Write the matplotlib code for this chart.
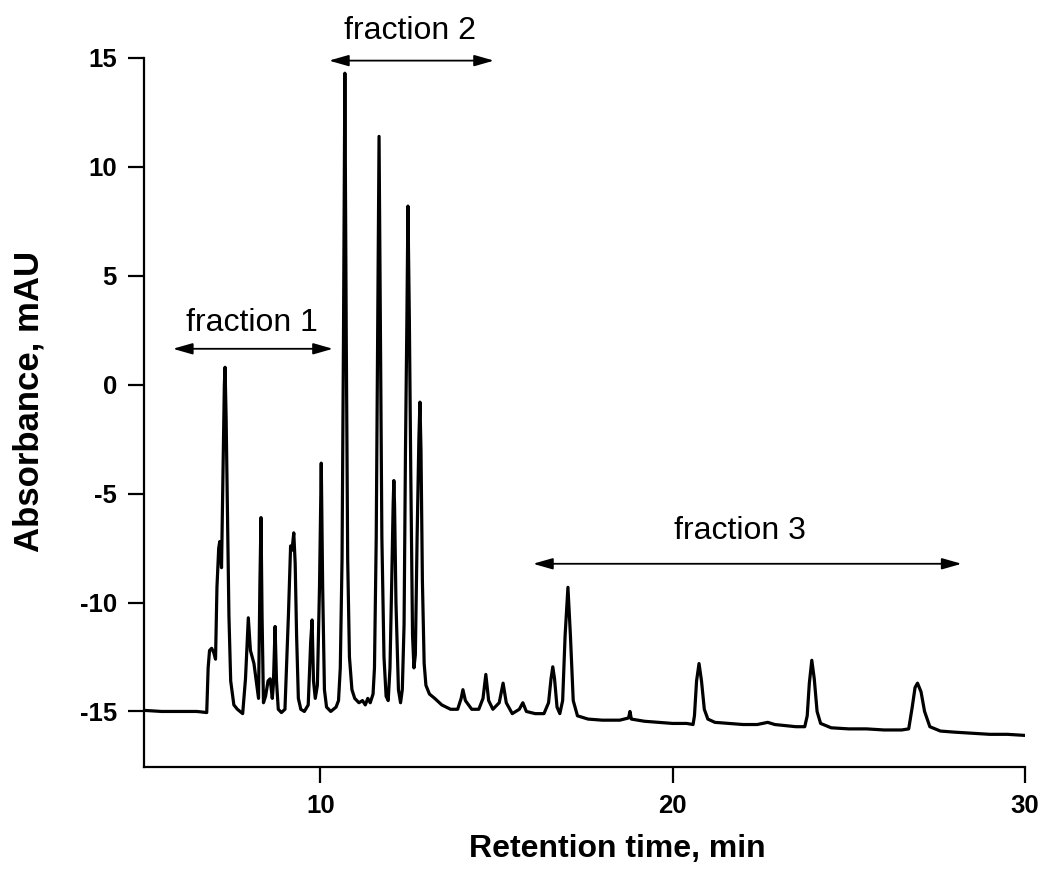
import matplotlib
matplotlib.use("Agg")
import matplotlib.pyplot as plt

# Chromatogram trace: (retention time / min, absorbance / mAU)
trace_start = [(5.00, -14.95), (5.50, -15.00), (6.00, -15.00), (6.50, -15.00), (6.78, -15.05)]

trace_fraction1 = [
    (6.82, -13.0), (6.86, -12.2), (6.92, -12.1), (6.98, -12.3), (7.03, -12.6), (7.07, -9.3),
    (7.12, -7.5), (7.15, -7.2), (7.20, -8.4), (7.25, -3.0), (7.28, 0.0), (7.30, 0.8),
    (7.33, -1.5), (7.37, -6.2), (7.41, -10.6), (7.46, -13.6), (7.55, -14.7), (7.65, -14.9),
    (7.80, -15.1), (7.88, -13.5), (7.96, -10.7), (8.02, -12.2), (8.12, -12.8), (8.20, -13.8),
    (8.25, -14.4), (8.29, -9.0), (8.32, -6.1), (8.35, -10.6), (8.39, -14.6), (8.45, -14.3),
    (8.52, -13.6), (8.58, -13.5), (8.64, -14.4), (8.67, -13.8), (8.72, -11.1), (8.76, -13.6),
    (8.81, -14.9), (8.90, -15.05), (9.00, -14.9), (9.10, -10.5), (9.16, -7.4), (9.20, -7.6),
    (9.25, -6.8), (9.29, -8.2), (9.33, -11.5), (9.38, -14.4), (9.45, -14.9), (9.55, -15.0),
    (9.66, -14.7), (9.73, -11.8), (9.77, -10.8), (9.81, -13.6), (9.86, -14.4), (9.92, -13.8),
    (9.98, -9.3), (10.03, -3.6), (10.07, -9.3), (10.12, -14.0), (10.18, -14.8), (10.30, -15.0),
    (10.45, -14.8),
]

trace_fraction2 = [
    (10.52, -14.5), (10.57, -13.0), (10.62, -8.0), (10.66, 2.0), (10.70, 14.3), (10.74, 2.0),
    (10.78, -8.0), (10.83, -12.5), (10.90, -14.0), (10.98, -14.4), (11.10, -14.6),
    (11.20, -14.5), (11.28, -14.7), (11.35, -14.4), (11.42, -14.6), (11.50, -14.2),
    (11.54, -13.0), (11.59, -7.0), (11.63, 2.0), (11.67, 11.4), (11.71, 2.0), (11.75, -7.0),
    (11.81, -12.5), (11.87, -14.3), (11.93, -14.5), (11.98, -13.0), (12.03, -9.0),
    (12.07, -5.5), (12.09, -4.4), (12.11, -5.5), (12.15, -10.0), (12.22, -14.0),
    (12.28, -14.6), (12.33, -14.0), (12.38, -11.0), (12.42, -3.0), (12.46, 3.0), (12.49, 8.2),
    (12.53, 3.0), (12.57, -4.0), (12.62, -11.5), (12.66, -13.0), (12.70, -12.4),
    (12.75, -7.0), (12.80, -2.5), (12.83, -0.8), (12.86, -3.0), (12.90, -9.0), (12.95, -12.8),
    (13.00, -13.8), (13.10, -14.2), (13.25, -14.4), (13.45, -14.7), (13.70, -14.9),
    (13.90, -14.9),
]

trace_middle = [
    (14.00, -14.4), (14.05, -14.0), (14.12, -14.5), (14.30, -14.9), (14.50, -14.9),
    (14.62, -14.4), (14.70, -13.3), (14.78, -14.5), (14.90, -14.9), (15.08, -14.6),
    (15.19, -13.7), (15.28, -14.6), (15.45, -15.1), (15.65, -14.9), (15.75, -14.6),
    (15.85, -15.0), (16.10, -15.1), (16.35, -15.1),
]

trace_fraction3 = [
    (16.48, -14.6), (16.55, -13.5), (16.60, -12.95), (16.65, -13.5), (16.72, -14.8),
    (16.80, -15.1), (16.88, -14.5), (16.95, -11.5), (17.03, -9.3), (17.10, -11.5),
    (17.18, -14.5), (17.30, -15.2), (17.60, -15.35), (18.00, -15.4), (18.50, -15.4),
    (18.75, -15.3), (18.79, -15.0), (18.83, -15.35), (19.20, -15.45), (19.60, -15.5),
    (20.00, -15.55), (20.40, -15.55), (20.58, -15.6), (20.62, -15.2), (20.68, -13.6),
    (20.75, -12.8), (20.82, -13.6), (20.90, -14.9), (21.00, -15.35), (21.20, -15.5),
    (21.60, -15.55), (22.00, -15.6), (22.40, -15.6), (22.70, -15.5), (22.90, -15.6),
    (23.20, -15.65), (23.50, -15.7), (23.75, -15.7), (23.82, -15.2), (23.88, -13.7),
    (23.95, -12.65), (24.02, -13.5), (24.10, -15.0), (24.20, -15.55), (24.50, -15.75),
    (25.00, -15.8), (25.50, -15.8), (26.00, -15.85), (26.50, -15.85), (26.70, -15.8),
    (26.80, -14.8), (26.88, -13.9), (26.95, -13.7), (27.05, -14.1), (27.15, -15.0),
    (27.30, -15.7), (27.60, -15.9), (28.00, -15.95), (28.50, -16.0), (29.00, -16.05),
    (29.50, -16.05), (30.00, -16.1),
]

# Fraction annotations: label, arrow start / end (min), arrow level, label position
fraction_labels = ["fraction 1", "fraction 2", "fraction 3"]
fraction_start = [5.82, 10.25, 16.04]
fraction_end = [10.36, 14.93, 28.20]
fraction_arrow_y = [1.65, 14.88, -8.22]
fraction_text_x = [8.06, 12.55, 21.90]
fraction_text_y = [2.85, 16.25, -6.70]

x_ticks = [10, 20, 30]
y_ticks = [-15, -10, -5, 0, 5, 10, 15]

trace = trace_start + trace_fraction1 + trace_fraction2 + trace_middle + trace_fraction3
time_min = [p[0] for p in trace]
absorbance_mau = [p[1] for p in trace]

plt.rcParams['font.family'] = ['Liberation Sans', 'DejaVu Sans']

fig = plt.figure(figsize=(10.5, 8.77), dpi=100)
ax = fig.add_axes([144 / 1050, 1 - 767 / 877, (1025 - 144) / 1050, (767 - 58) / 877])

ax.plot(time_min, absorbance_mau, color='black', lw=2.3, solid_joinstyle='round')

ax.set_xlim(5, 30)
ax.set_ylim(-17.55, 15)
ax.set_xticks(x_ticks)
ax.set_yticks(y_ticks)
ax.set_xticklabels([str(t) for t in x_ticks], fontsize=18.5, fontweight='bold')
ax.set_yticklabels([str(t) for t in y_ticks], fontsize=18.5, fontweight='bold')

for side in ['top', 'right']:
    ax.spines[side].set_visible(False)
for side in ['left', 'bottom']:
    ax.spines[side].set_linewidth(1.6)
ax.tick_params(direction='out', length=11.5, width=1.6, pad=8)

ax.set_xlabel('Retention time, min', fontsize=23, fontweight='bold')
ax.xaxis.label.set_va('center')
ax.xaxis.set_label_coords((617 - 144) / 881, (767 - 849) / 709)
ax.set_ylabel('Absorbance, mAU', fontsize=25, fontweight='bold')
ax.yaxis.label.set_va('center')
ax.yaxis.set_label_coords((29 - 144) / 881, (767 - 401) / 709)

for lab, x0, x1, ya, tx, ty in zip(fraction_labels, fraction_start, fraction_end,
                                   fraction_arrow_y, fraction_text_x, fraction_text_y):
    ax.annotate('', xy=(x1, ya), xytext=(x0, ya), annotation_clip=False,
                arrowprops=dict(arrowstyle='<|-|>,head_length=0.7,head_width=0.2',
                                color='black', lw=1.3, shrinkA=0, shrinkB=0,
                                mutation_scale=17))
    ax.text(tx, ty, lab, fontsize=23, ha='center', va='center', clip_on=False)

fig.savefig('out.png', dpi=100)
